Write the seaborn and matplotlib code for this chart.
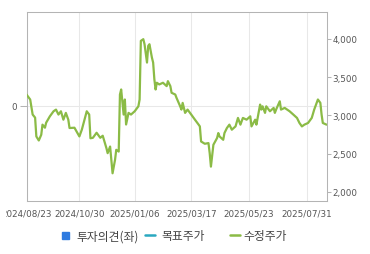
import matplotlib
matplotlib.use("Agg")
import matplotlib.pyplot as plt
import seaborn as sns
import pandas as pd
from matplotlib.lines import Line2D
from matplotlib.patches import Patch
from matplotlib.ticker import FuncFormatter
from matplotlib.transforms import Bbox, TransformedBbox

# trading-day index and adjusted price (수정주가)
day = [0, 3, 5, 7, 8, 10, 12, 13, 15, 16, 19, 22, 24, 26, 28, 30, 32, 34, 35, 39,
       43, 45, 49, 51, 52, 54, 57, 60, 62, 65, 66, 68, 70, 72, 73, 75, 76, 77, 79, 80,
       81, 83, 85, 88, 91, 92, 93, 95, 96, 98, 99, 100, 102, 103, 104, 105, 106, 108, 111, 114,
       115, 117, 118, 121, 122, 125, 126, 127, 129, 131, 134, 137, 140, 141, 142, 145, 148, 149, 150, 152,
       155, 156, 157, 160, 161, 163, 165, 167, 170, 172, 174, 176, 179, 182, 183, 186, 187, 190, 191, 192,
       194, 195, 198, 201, 202, 203, 206, 207, 210, 214, 217, 220, 222, 224, 226, 229, 232, 234, 237, 239,
       240, 241, 244]
price = [3272, 3207, 3010, 2970, 2724, 2671, 2746, 2878, 2838, 2904, 2987, 3053, 3075, 3010, 3053, 2943, 3032, 2943, 2834, 2838,
         2724, 2812, 3053, 3010, 2700, 2706, 2772, 2706, 2733, 2571, 2505, 2592, 2242, 2417, 2549, 2526, 3272, 3338, 3010, 3207,
         2880, 3032, 3010, 3053, 3118, 3207, 3974, 3996, 3930, 3690, 3908, 3930, 3755, 3690, 3470, 3338, 3426, 3404, 3426, 3382,
         3447, 3382, 3295, 3272, 3229, 3118, 3075, 3163, 3032, 3075, 3010, 2943, 2878, 2855, 2658, 2628, 2637, 2505, 2329, 2615,
         2703, 2768, 2724, 2680, 2768, 2834, 2878, 2812, 2855, 2966, 2878, 2966, 2943, 2987, 2855, 2943, 2878, 3141, 3075, 3118,
         3032, 3118, 3053, 3097, 3032, 3075, 3184, 3075, 3097, 3053, 3010, 2966, 2900, 2855, 2878, 2900, 2966, 3075, 3207, 3163,
         3010, 2900, 2878]

tick_days = [0, 43, 88, 134, 181, 228]
tick_labels = ["2024/08/23", "2024/10/30", "2025/01/06", "2025/03/17", "2025/05/23", "2025/07/31"]
right_ticks = [2000, 2500, 3000, 3500, 4000]

df = pd.DataFrame({"day": day, "price": price})

sns.set_style("white")
plt.rcParams["font.family"] = ["DejaVu Sans", "Noto Sans CJK KR"]

green = "#8bbb46"
gray_txt = "#555555"
frame = "#b4b4b4"
W, H = 370, 255

fig = plt.figure(figsize=(3.70, 2.55), dpi=100)
# spines on pixel centres: left 26.5, right 326.5, top 12.5, bottom 201.5
ax = fig.add_axes([26.5 / W, (H - 201.5) / H, 300 / W, 189 / H])
ax2 = ax.twinx()

# left axis (투자의견)
ax.set_ylim(-1, 1)
ax.set_yticks([0])
ax.set_yticklabels(["0"])
ax.set_xlim(0, 244)
ax.set_xticks(tick_days)
ax.set_xticklabels(tick_labels)
ax.grid(True, color="#e8e8e8", linewidth=0.75)
ax.set_axisbelow(True)

sns.lineplot(data=df, x="day", y="price", ax=ax2, color=green, linewidth=1.6)
ax2.set_ylim(1886, 4358)
ax2.set_yticks(right_ticks)
ax2.yaxis.set_major_formatter(FuncFormatter(lambda v, p: f"{int(v):,}"))
ax2.set_xlabel("")
ax2.set_ylabel("")
ax.set_xlabel("")
ax.set_ylabel("")

for s in ax.spines.values():
    s.set_color(frame)
    s.set_linewidth(0.75)
for s in ax2.spines.values():
    s.set_visible(False)
for a in (ax, ax2):
    a.tick_params(axis="both", labelsize=6.3, colors=frame, labelcolor=gray_txt,
                  length=3, width=0.75, pad=1.5)
ax.tick_params(axis="x", pad=2.5)
ax.tick_params(axis="y", length=5, pad=2)

# clip the first date label at the canvas edge as in the reference
clip = TransformedBbox(Bbox.from_extents(6 / W, 0, 1, 1), fig.transFigure)
first = ax.get_xticklabels()[0]
first.set_clip_box(clip)
first.set_clip_on(True)

legend_items = [
    (Patch(facecolor="#2f7be0", edgecolor="#2f7be0", label="투자의견(좌)"), 61.5, 0.6, 0.6, 0.65),
    (Line2D([0], [0], color="#2aa8c0", linewidth=1.8, label="목표주가"), 145, 0.85, 0.7, 0.5),
    (Line2D([0], [0], color=green, linewidth=1.8, label="수정주가"), 230, 0.85, 0.7, 0.25),
]
for h, x0, hl, hh, tp in legend_items:
    fig.legend(handles=[h], loc="center left", bbox_to_anchor=(x0 / W, 1 - 237 / H),
               frameon=False, handlelength=hl, handleheight=hh,
               handletextpad=tp, borderpad=0, borderaxespad=0,
               prop={"family": ["Noto Sans CJK KR", "DejaVu Sans"], "size": 8.5},
               labelcolor="#444444")

fig.savefig("out.png", dpi=100)
